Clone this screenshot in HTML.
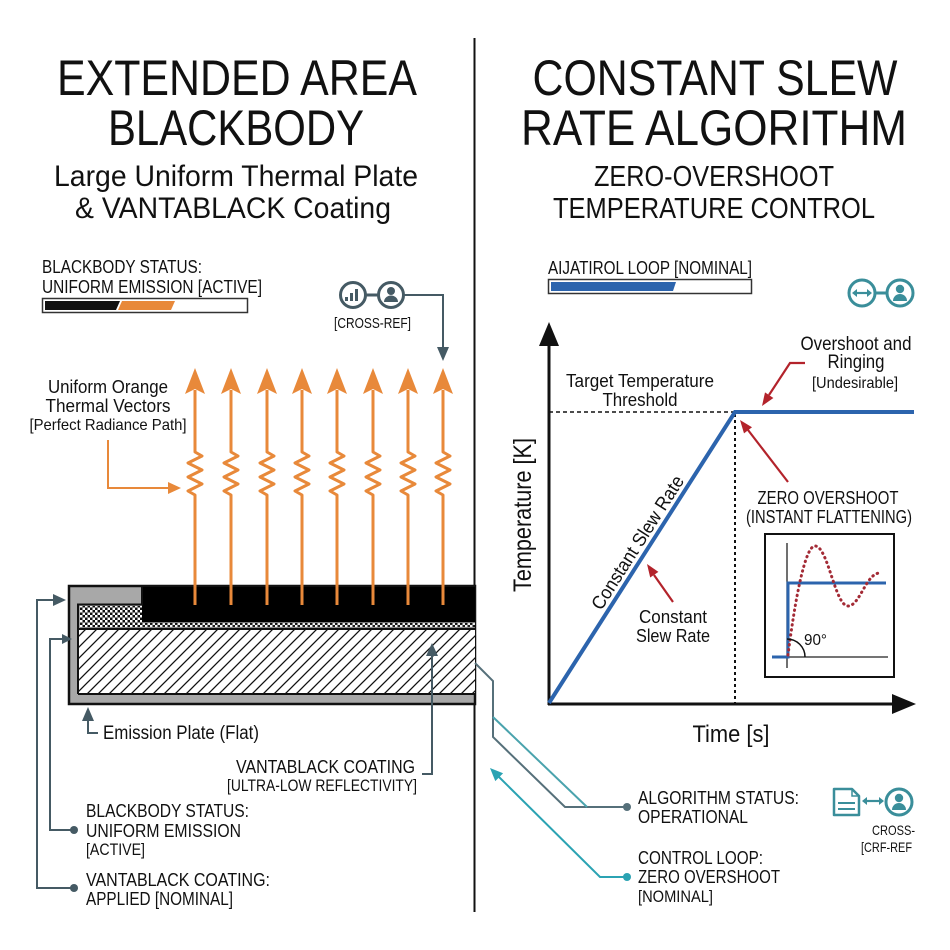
<!DOCTYPE html>
<html>
<head>
<meta charset="utf-8">
<style>
  html,body{margin:0;padding:0;background:#fff;}
  svg{display:block;}
  text{font-family:"Liberation Sans",sans-serif;fill:#111;}
</style>
</head>
<body>
<svg width="950" height="950" viewBox="0 0 950 950" xmlns="http://www.w3.org/2000/svg">
  <defs>
    <pattern id="hatch" patternUnits="userSpaceOnUse" width="11" height="11">
      <rect width="11" height="11" fill="#fff"/>
      <path d="M-1,1 l2,-2 M0,11 l11,-11 M10,12 l2,-2" stroke="#111" stroke-width="1.3"/>
    </pattern>
    <pattern id="checker" patternUnits="userSpaceOnUse" width="5" height="5">
      <rect width="5" height="5" fill="#111"/>
      <rect x="0" y="0" width="2.5" height="2.5" fill="#fff"/>
      <rect x="2.5" y="2.5" width="2.5" height="2.5" fill="#fff"/>
    </pattern>
    <g id="oarrow">
      <path d="M0,390 V452 L7,456 L-7,463 L7,470 L-7,477 L7,484 L-7,491 L0,495 V605" fill="none" stroke="#e8893a" stroke-width="3" stroke-linejoin="round"/>
      <polygon points="0,368 -10,394 0,389 10,394" fill="#e8893a"/>
    </g>
  </defs>

  <rect width="950" height="950" fill="#fff"/>

  <!-- divider -->
  <line x1="474.5" y1="38" x2="474.5" y2="912" stroke="#111" stroke-width="2"/>

  <!-- Titles left -->
  <text x="237" y="95" font-size="50" text-anchor="middle" textLength="360" lengthAdjust="spacingAndGlyphs">EXTENDED AREA</text>
  <text x="236" y="145" font-size="50" text-anchor="middle" textLength="256" lengthAdjust="spacingAndGlyphs">BLACKBODY</text>
  <text x="236" y="186" font-size="30" text-anchor="middle" textLength="364" lengthAdjust="spacingAndGlyphs">Large Uniform Thermal Plate</text>
  <text x="233" y="218" font-size="30" text-anchor="middle" textLength="316" lengthAdjust="spacingAndGlyphs">&amp; VANTABLACK Coating</text>

  <!-- Titles right -->
  <text x="715" y="95" font-size="50" text-anchor="middle" textLength="365" lengthAdjust="spacingAndGlyphs">CONSTANT SLEW</text>
  <text x="714" y="145" font-size="50" text-anchor="middle" textLength="386" lengthAdjust="spacingAndGlyphs">RATE ALGORITHM</text>
  <text x="714" y="186" font-size="29" text-anchor="middle" textLength="240" lengthAdjust="spacingAndGlyphs">ZERO-OVERSHOOT</text>
  <text x="714" y="218" font-size="29" text-anchor="middle" textLength="322" lengthAdjust="spacingAndGlyphs">TEMPERATURE CONTROL</text>

  <!-- Left status -->
  <text x="42" y="273" font-size="18" textLength="160" lengthAdjust="spacingAndGlyphs">BLACKBODY STATUS:</text>
  <text x="42" y="293" font-size="18" textLength="220" lengthAdjust="spacingAndGlyphs">UNIFORM EMISSION [ACTIVE]</text>
  <rect x="42.5" y="298.5" width="205" height="14" fill="#fff" stroke="#333" stroke-width="1.5"/>
  <polygon points="45,301 120,301 116,310 45,310" fill="#111"/>
  <polygon points="122,301 175,301 171,310 118,310" fill="#e8893a"/>

  <!-- cross-ref icon top-left -->
  <line x1="366" y1="295" x2="378" y2="295" stroke="#455a64" stroke-width="3"/>
  <circle cx="353" cy="295" r="12.5" fill="#fff" stroke="#455a64" stroke-width="3"/>
  <rect x="345" y="297" width="3" height="4" fill="#455a64"/>
  <rect x="350" y="293" width="3" height="8" fill="#455a64"/>
  <rect x="355" y="289" width="3" height="12" fill="#455a64"/>
  <circle cx="391" cy="295" r="12.5" fill="#fff" stroke="#455a64" stroke-width="3"/>
  <circle cx="391" cy="291" r="4" fill="#455a64"/>
  <path d="M384,302 a7 6.5 0 0 1 14 0 z" fill="#455a64"/>
  <path d="M404,295 H443 V350" fill="none" stroke="#455a64" stroke-width="2"/>
  <polygon points="443,361 437,347 449,347" fill="#455a64"/>
  <text x="334" y="328" font-size="15" textLength="77" lengthAdjust="spacingAndGlyphs">[CROSS-REF]</text>

  <!-- Uniform Orange label -->
  <text x="108" y="393" font-size="18" text-anchor="middle" textLength="120" lengthAdjust="spacingAndGlyphs">Uniform Orange</text>
  <text x="108" y="412" font-size="18" text-anchor="middle" textLength="125" lengthAdjust="spacingAndGlyphs">Thermal Vectors</text>
  <text x="108" y="430" font-size="16" text-anchor="middle" textLength="157" lengthAdjust="spacingAndGlyphs">[Perfect Radiance Path]</text>
  <path d="M108,440 V488 H170" fill="none" stroke="#e8893a" stroke-width="2"/>
  <polygon points="181,488 168,482 168,494" fill="#e8893a"/>

  <!-- Plate -->
  <rect x="69" y="586" width="406" height="118" fill="#a8a8a8" stroke="#111" stroke-width="2.5"/>
  <rect x="142" y="587" width="333" height="37" fill="#000"/>
  <rect x="80" y="606" width="62" height="22" fill="url(#checker)"/>
  <rect x="142" y="622" width="333" height="6" fill="url(#checker)" opacity="0.9"/>
  <rect x="79" y="630" width="396" height="63" fill="url(#hatch)"/>
  <path d="M78,694 V604.5 H142 V587" fill="none" stroke="#111" stroke-width="2"/>
  <line x1="78" y1="629" x2="475" y2="629" stroke="#111" stroke-width="2"/>
  <line x1="78" y1="694" x2="475" y2="694" stroke="#111" stroke-width="2"/>

  <!-- orange arrows -->
  <use href="#oarrow" x="195"/>
  <use href="#oarrow" x="231"/>
  <use href="#oarrow" x="267"/>
  <use href="#oarrow" x="302"/>
  <use href="#oarrow" x="337"/>
  <use href="#oarrow" x="373"/>
  <use href="#oarrow" x="408"/>
  <use href="#oarrow" x="443"/>

  <!-- left connectors -->
  <path d="M74,888 H37 V600 H55" fill="none" stroke="#455a64" stroke-width="2"/>
  <polygon points="66,600 53,594 53,606" fill="#455a64"/>
  <circle cx="74" cy="888" r="4" fill="#455a64"/>
  <path d="M74,830 H50 V639 H62" fill="none" stroke="#455a64" stroke-width="2"/>
  <polygon points="72,639 62,634 62,644" fill="#455a64"/>
  <circle cx="74" cy="830" r="4" fill="#455a64"/>
  <path d="M98,733 H88 V718" fill="none" stroke="#455a64" stroke-width="2"/>
  <polygon points="88,707 82,721 94,721" fill="#455a64"/>
  <path d="M422,774 H432 V655" fill="none" stroke="#455a64" stroke-width="2"/>
  <polygon points="432,643 426,656 438,656" fill="#455a64"/>

  <text x="103" y="739" font-size="19" textLength="156" lengthAdjust="spacingAndGlyphs">Emission Plate (Flat)</text>
  <text x="236" y="773" font-size="18" textLength="179" lengthAdjust="spacingAndGlyphs">VANTABLACK COATING</text>
  <text x="227" y="791" font-size="17" textLength="190" lengthAdjust="spacingAndGlyphs">[ULTRA-LOW REFLECTIVITY]</text>
  <text x="86" y="817" font-size="18" textLength="163" lengthAdjust="spacingAndGlyphs">BLACKBODY STATUS:</text>
  <text x="86" y="837" font-size="18" textLength="155" lengthAdjust="spacingAndGlyphs">UNIFORM EMISSION</text>
  <text x="86" y="855" font-size="17" textLength="59" lengthAdjust="spacingAndGlyphs">[ACTIVE]</text>
  <text x="86" y="886" font-size="18" textLength="184" lengthAdjust="spacingAndGlyphs">VANTABLACK COATING:</text>
  <text x="86" y="905" font-size="18" textLength="147" lengthAdjust="spacingAndGlyphs">APPLIED [NOMINAL]</text>

  <!-- Right status -->
  <text x="548" y="274" font-size="18" textLength="204" lengthAdjust="spacingAndGlyphs">AIJATIROL LOOP [NOMINAL]</text>
  <rect x="548.5" y="279.5" width="203" height="14" fill="#fff" stroke="#333" stroke-width="1.5"/>
  <polygon points="551,282 676,282 673,291 551,291" fill="#2c64ad"/>

  <!-- teal icons top right -->
  <line x1="875" y1="293" x2="887" y2="293" stroke="#3a8e9a" stroke-width="3"/>
  <circle cx="862" cy="293" r="13" fill="#fff" stroke="#3a8e9a" stroke-width="3"/>
  <line x1="856" y1="293" x2="868" y2="293" stroke="#3a8e9a" stroke-width="2.2"/>
  <polygon points="852,293 857,289 857,297" fill="#3a8e9a"/>
  <polygon points="872,293 867,289 867,297" fill="#3a8e9a"/>
  <circle cx="900" cy="293" r="13" fill="#fff" stroke="#3a8e9a" stroke-width="3"/>
  <circle cx="900" cy="289" r="4.2" fill="#3a8e9a"/>
  <path d="M893,301 a7 7 0 0 1 14 0 z" fill="#3a8e9a"/>

  <!-- Graph axes -->
  <line x1="549" y1="340" x2="549" y2="705" stroke="#111" stroke-width="3"/>
  <polygon points="549,322 539,346 559,346" fill="#111"/>
  <line x1="548" y1="704" x2="895" y2="704" stroke="#111" stroke-width="3"/>
  <polygon points="916,704 892,694 892,714" fill="#111"/>

  <path d="M549,412 H735" fill="none" stroke="#111" stroke-width="1.5" stroke-dasharray="4 3"/>
  <path d="M735,414 V703" fill="none" stroke="#111" stroke-width="2" stroke-dasharray="3 3"/>
  <path d="M549,703 L735,412 H914" fill="none" stroke="#2c64ad" stroke-width="4" stroke-linejoin="miter"/>

  <text x="640" y="387" font-size="18" text-anchor="middle" textLength="148" lengthAdjust="spacingAndGlyphs">Target Temperature</text>
  <text x="640" y="406" font-size="18" text-anchor="middle" textLength="75" lengthAdjust="spacingAndGlyphs">Threshold</text>

  <text x="856" y="350" font-size="19" text-anchor="middle" textLength="111" lengthAdjust="spacingAndGlyphs">Overshoot and</text>
  <text x="856" y="368" font-size="19" text-anchor="middle" textLength="57" lengthAdjust="spacingAndGlyphs">Ringing</text>
  <text x="855" y="388" font-size="16" text-anchor="middle" textLength="86" lengthAdjust="spacingAndGlyphs">[Undesirable]</text>

  <!-- red arrows -->
  <path d="M805,363 H790 L769,395" fill="none" stroke="#b3232b" stroke-width="2.2"/>
  <polygon points="762,406 773.4,398 765,392.4" fill="#b3232b"/>
  <path d="M788,482 L748,430" fill="none" stroke="#b3232b" stroke-width="2.2"/>
  <polygon points="740,420 752,427.2 744,433.4" fill="#b3232b"/>
  <path d="M673,602 L654,575" fill="none" stroke="#b3232b" stroke-width="2.2"/>
  <polygon points="647,564 658.4,571.9 650.2,577.5" fill="#b3232b"/>

  <text x="828" y="504" font-size="18" text-anchor="middle" textLength="141" lengthAdjust="spacingAndGlyphs">ZERO OVERSHOOT</text>
  <text x="829" y="523" font-size="18" text-anchor="middle" textLength="166" lengthAdjust="spacingAndGlyphs">(INSTANT FLATTENING)</text>

  <!-- inset -->
  <rect x="765" y="534" width="129" height="143" fill="#fff" stroke="#111" stroke-width="2"/>
  <line x1="787" y1="543" x2="787" y2="668" stroke="#222" stroke-width="1.3"/>
  <line x1="772" y1="657" x2="888" y2="657" stroke="#222" stroke-width="1.3"/>
  <path d="M772,657 H788 V583 H886" fill="none" stroke="#2c64ad" stroke-width="3"/>
  <path d="M788,655 C795,600 805,546 815,546 C828,546 835,606 848,606 C860,606 866,573 880,573" fill="none" stroke="#a32a35" stroke-width="3" stroke-dasharray="0.5 4.5" stroke-linecap="round"/>
  <path d="M787,639 A18,18 0 0 1 805,657" fill="none" stroke="#111" stroke-width="1.5"/>
  <text x="804" y="645" font-size="16" textLength="23" lengthAdjust="spacingAndGlyphs">90°</text>

  <!-- Axis labels -->
  <text x="0" y="0" font-size="25" text-anchor="middle" textLength="154" lengthAdjust="spacingAndGlyphs" transform="translate(531,515) rotate(-90)">Temperature [K]</text>
  <text x="0" y="0" font-size="19" text-anchor="middle" textLength="155" lengthAdjust="spacingAndGlyphs" transform="translate(643,546) rotate(-57.4)">Constant Slew Rate</text>
  <text x="673" y="623" font-size="18" text-anchor="middle" textLength="68" lengthAdjust="spacingAndGlyphs">Constant</text>
  <text x="673" y="642" font-size="18" text-anchor="middle" textLength="74" lengthAdjust="spacingAndGlyphs">Slew Rate</text>
  <text x="731" y="742" font-size="24" text-anchor="middle" textLength="77" lengthAdjust="spacingAndGlyphs">Time [s]</text>

  <!-- right connectors -->
  <path d="M475,663 L493,681 V737 L565,807 H627" fill="none" stroke="#56707a" stroke-width="2"/>
  <path d="M493,717 L587,807" fill="none" stroke="#4aa3ad" stroke-width="2"/>
  <circle cx="627" cy="807" r="4" fill="#56707a"/>
  <path d="M627,877 H600 L499,777" fill="none" stroke="#2ba3b3" stroke-width="2"/>
  <polygon points="490,768 503.1,773.3 495.3,781.1" fill="#2ba3b3"/>
  <circle cx="627" cy="877" r="4" fill="#2ba3b3"/>

  <text x="638" y="804" font-size="18" textLength="161" lengthAdjust="spacingAndGlyphs">ALGORITHM STATUS:</text>
  <text x="638" y="823" font-size="18" textLength="110" lengthAdjust="spacingAndGlyphs">OPERATIONAL</text>
  <text x="638" y="864" font-size="18" textLength="125" lengthAdjust="spacingAndGlyphs">CONTROL LOOP:</text>
  <text x="638" y="883" font-size="18" textLength="142" lengthAdjust="spacingAndGlyphs">ZERO OVERSHOOT</text>
  <text x="638" y="902" font-size="17" textLength="75" lengthAdjust="spacingAndGlyphs">[NOMINAL]</text>

  <!-- bottom-right icon -->
  <path d="M834,789 H852 L859,796 V815 H834 Z" fill="#fff" stroke="#3a8e9a" stroke-width="2.5" stroke-linejoin="round"/>
  <path d="M852,789 V796 H859" fill="none" stroke="#3a8e9a" stroke-width="1.5"/>
  <line x1="838" y1="803" x2="855" y2="803" stroke="#3a8e9a" stroke-width="2"/>
  <line x1="838" y1="809" x2="855" y2="809" stroke="#3a8e9a" stroke-width="2"/>
  <line x1="866" y1="801" x2="880" y2="801" stroke="#3a8e9a" stroke-width="2.2"/>
  <polygon points="862,801 867,797 867,805" fill="#3a8e9a"/>
  <polygon points="884,801 879,797 879,805" fill="#3a8e9a"/>
  <circle cx="899" cy="802" r="13" fill="#fff" stroke="#3a8e9a" stroke-width="3"/>
  <circle cx="899" cy="798" r="4.2" fill="#3a8e9a"/>
  <path d="M892,810 a7 7 0 0 1 14 0 z" fill="#3a8e9a"/>
  <text x="915" y="835" font-size="14" text-anchor="end" textLength="43" lengthAdjust="spacingAndGlyphs">CROSS-</text>
  <text x="912" y="852" font-size="14" text-anchor="end" textLength="51" lengthAdjust="spacingAndGlyphs">[CRF-REF</text>
</svg>
</body>
</html>
